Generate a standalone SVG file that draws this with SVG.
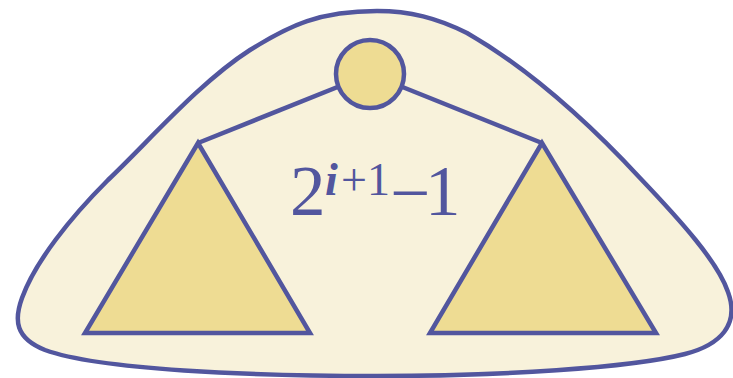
<svg xmlns="http://www.w3.org/2000/svg" width="733" height="378" viewBox="0 0 733 378">
<style>
.ln{stroke:#52569E;stroke-width:4.5;fill:none}
.sh{stroke:#52569E;stroke-width:4.5;fill:#EEDC93}
.txt{font-family:"Liberation Serif","Times New Roman",serif;fill:#52569E}
</style>
<g id="blob">
<path d="M 377 11 C 320 11, 290 25, 250 50 C 200 82, 150 140, 108 180 C 70 218, 35 262, 22 298 C 14 320, 15 338, 45 350 C 100 370, 250 376, 377 376 C 500 376, 630 368, 685 354 C 720 345, 740 325, 728 292 C 718 262, 680 220, 640 178 C 600 135, 540 75, 467 33 C 437 18, 410 11, 377 11 Z" fill="#F8F2DB" stroke="#52569E" stroke-width="4.5"/>
</g>
<g id="connectors">
<line class="ln" x1="370" y1="74" x2="198" y2="143"/>
<line class="ln" x1="370" y1="74" x2="542" y2="143"/>
</g>
<g id="root">
<circle class="sh" cx="370" cy="74" r="34"/>
</g>
<g id="left-subtree">
<polygon class="sh" points="198,143 85,333 310,333"/>
</g>
<g id="right-subtree">
<polygon class="sh" points="542,143 430,333 656,333"/>
</g>
<g id="label">
<text class="txt"><tspan x="290" y="215" font-size="71">2</tspan><tspan x="325" y="195" font-size="46" font-style="italic" font-weight="bold">i</tspan><tspan x="341" y="195" font-size="46">+</tspan><tspan x="367" y="195" font-size="46">1</tspan><tspan x="390" y="217" font-size="71">−</tspan><tspan x="425" y="215" font-size="71">1</tspan></text>
</g>
</svg>
